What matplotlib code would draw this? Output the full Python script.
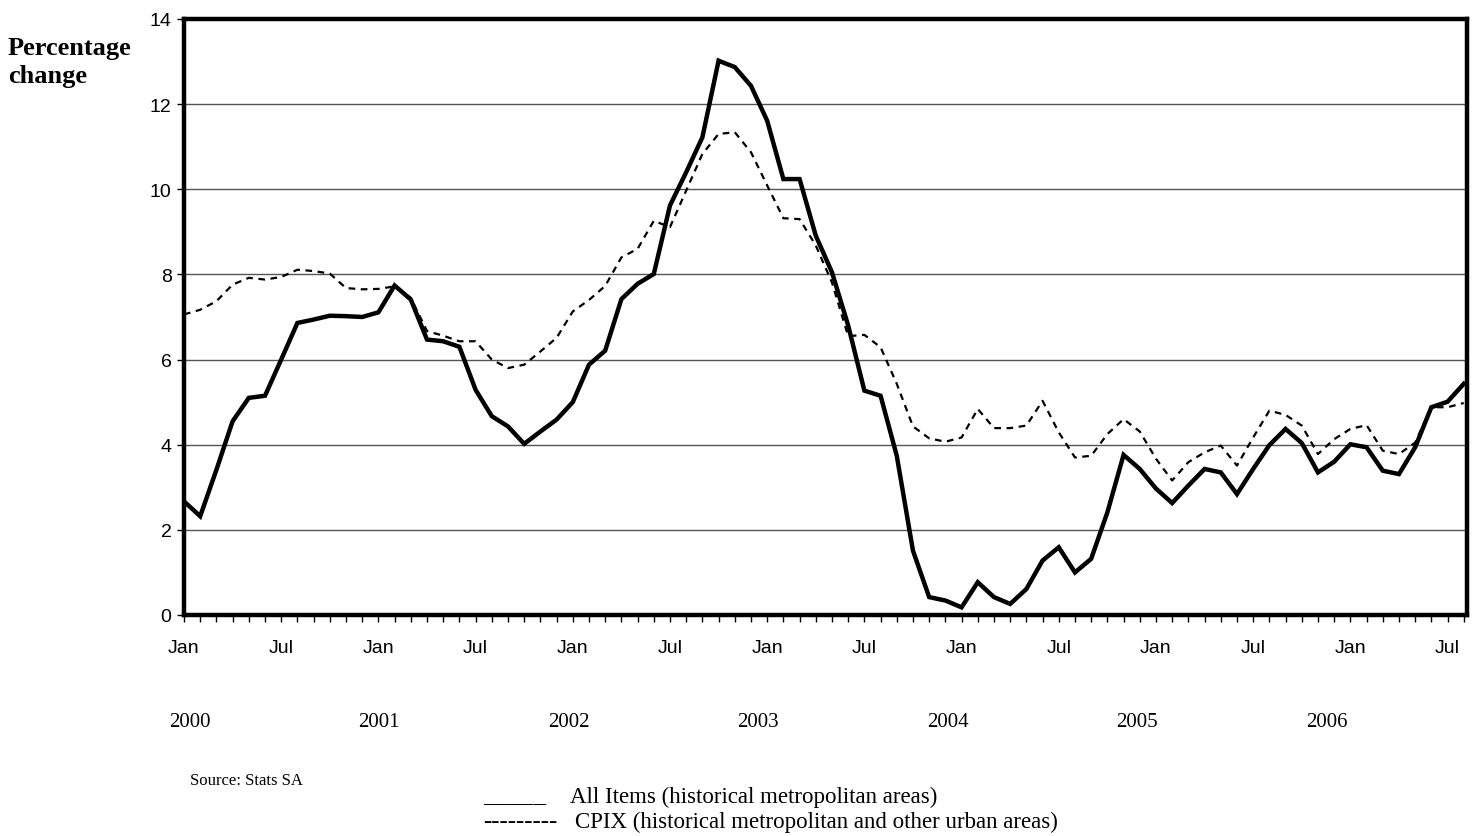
import numpy as np
import matplotlib.pyplot as plt

# monthly year-on-year change, Jan 2000 .. Aug 2006
all_items = [2.67, 2.32, 3.41, 4.55, 5.10, 5.15, 6.00, 6.86, 6.94, 7.03, 7.02, 7.00,
             7.11, 7.74, 7.41, 6.47, 6.43, 6.30, 5.29, 4.67, 4.43, 4.02, 4.31, 4.59,
             5.00, 5.88, 6.21, 7.42, 7.78, 8.01, 9.62, 10.40, 11.22, 13.02, 12.87, 12.43,
             11.61, 10.24, 10.24, 8.91, 8.05, 6.80, 5.27, 5.15, 3.74, 1.51, 0.42, 0.34,
             0.18, 0.77, 0.42, 0.26, 0.61, 1.28, 1.59, 1.00, 1.32, 2.41, 3.76, 3.43,
             2.97, 2.63, 3.04, 3.43, 3.35, 2.84, 3.43, 3.99, 4.37, 4.04, 3.35, 3.60,
             4.01, 3.94, 3.39, 3.31, 3.94, 4.88, 5.01, 5.43]
cpix = [7.06, 7.17, 7.37, 7.76, 7.92, 7.88, 7.94, 8.11, 8.08, 8.02, 7.68, 7.65,
        7.66, 7.72, 7.45, 6.67, 6.56, 6.43, 6.43, 6.00, 5.80, 5.88, 6.19, 6.51,
        7.13, 7.40, 7.73, 8.40, 8.60, 9.26, 9.11, 9.97, 10.83, 11.30, 11.34, 10.87,
        10.09, 9.32, 9.30, 8.68, 7.81, 6.55, 6.58, 6.29, 5.43, 4.43, 4.15, 4.07,
        4.17, 4.84, 4.39, 4.39, 4.45, 5.03, 4.29, 3.70, 3.74, 4.25, 4.60, 4.31,
        3.67, 3.16, 3.59, 3.82, 3.98, 3.51, 4.17, 4.80, 4.70, 4.45, 3.78, 4.13,
        4.37, 4.46, 3.86, 3.78, 4.05, 4.88, 4.88, 4.98]
month_labels = ["Jan", "Jul"]
years = ["2000", "2001", "2002", "2003", "2004", "2005", "2006"]

months = np.arange(len(all_items))

plt.rcParams["font.family"] = "Liberation Sans"
fig = plt.figure(figsize=(14.76, 8.37), dpi=100)
ax = fig.add_axes([184 / 1476, 1 - 616 / 837, 1283 / 1476, 596 / 837])

ax.plot(months, cpix, color="black", lw=1.6, ls=(0, (3, 2.5)))
ax.plot(months, all_items, color="black", lw=3.2, solid_joinstyle="miter")

ax.set_xlim(0, 79.2)
ax.set_ylim(0, 14)
ax.set_yticks(np.arange(0, 15, 2))
ax.yaxis.grid(True, color="#555555", lw=1)
ax.set_axisbelow(True)

major = np.arange(0, len(months), 6)
ax.set_xticks(major)
ax.set_xticklabels([month_labels[(m // 6) % 2] for m in major])
ax.set_xticks(months, minor=True)
ax.tick_params(axis="x", which="both", length=5, width=1, pad=12, labelsize=14)
ax.tick_params(axis="y", length=5, width=1, labelsize=14, pad=4)

for s in ax.spines.values():
    s.set_linewidth(3.2)
    s.set_color("black")

serif = "Liberation Serif"
trans = ax.get_xaxis_transform()
for k, y in enumerate(years):
    ax.text(0.35 + 11.7 * k, -0.178, y, transform=trans, ha="center", va="center",
            fontsize=15, family=serif)

fig.text(8 / 1476, 1 - 49 / 837, "Percentage", ha="left", va="center",
         fontsize=19, fontweight="bold", family=serif)
fig.text(8 / 1476, 1 - 77 / 837, "change", ha="left", va="center",
         fontsize=19, fontweight="bold", family=serif)
fig.text(190 / 1476, 1 - 781 / 837, "Source: Stats SA", ha="left", va="center",
         fontsize=12, family=serif)
fig.text(483 / 1476, 1 - 795 / 837, "_____", ha="left", va="center",
         fontsize=18, family=serif)
fig.text(570 / 1476, 1 - 797 / 837, "All Items (historical metropolitan areas)",
         ha="left", va="center", fontsize=16.5, family=serif)
fig.text(483 / 1476, 1 - 822 / 837, "---------", ha="left", va="center",
         fontsize=18, family=serif)
fig.text(575 / 1476, 1 - 822 / 837, "CPIX (historical metropolitan and other urban areas)",
         ha="left", va="center", fontsize=16.5, family=serif)

fig.savefig("out.png", dpi=100)
